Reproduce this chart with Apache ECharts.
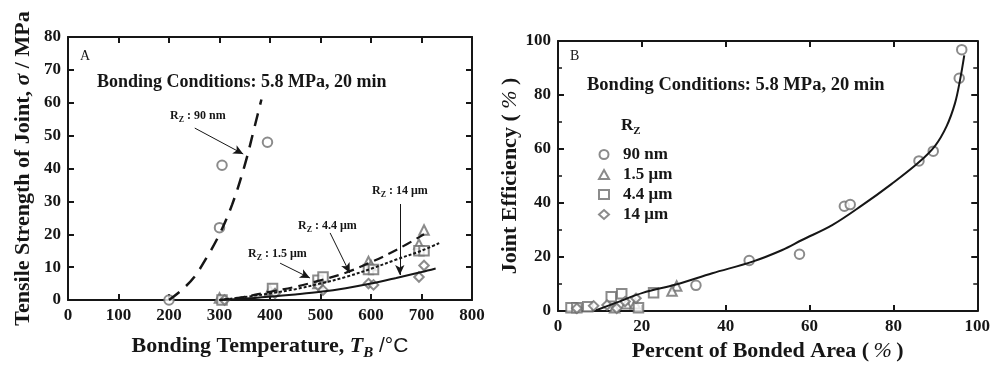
<!DOCTYPE html>
<html><head><meta charset="utf-8">
<script src="https://cdn.jsdelivr.net/npm/echarts@6/dist/echarts.min.js"></script>
<style>html,body{margin:0;padding:0;background:#fff}#c{width:993px;height:367px}</style>
</head><body><div id="c"></div>
<script>
// ---------- Panel A data (Bonding temperature °C, tensile strength MPa) ----------
const aCircles = [[200,0],[300,22],[305,41],[395,48]];
const aTriangles = [[300,0.6],[400,3],[495,5],[595,11.7],[600,10.5],[695,17],[705,21.3]];
const aSquares = [[305,0],[405,3.5],[495,6],[505,7],[595,9.3],[605,9.3],[695,15],[705,15]];
const aDiamonds = [[310,0],[410,2],[495,4.5],[505,3],[595,5],[605,4.6],[695,7],[705,10.5]];
const aCurve90 = [[200,0],[225,3],[250,7],[275,13],[300,20],[325,29],[350,41],[370,53],[383,61]];
const aCurve15 = [[300,0],[350,1],[400,2.5],[450,4],[500,6],[550,8.3],[600,11.5],[650,15.2],[705,20]];
const aCurve44 = [[300,0],[350,0.9],[400,2],[450,3.3],[500,5],[550,7],[600,9.5],[650,12.3],[700,15],[735,17.3]];
const aCurve14 = [[300,0],[350,0.4],[400,1],[450,1.7],[500,2.5],[550,3.6],[600,5],[650,6.7],[700,8.5],[728,9.6]];
const aArrows = [[[251,52.3],[347,44.4]],[[420,11.2],[479,6.7]],[[519,20.4],[558,8.2]],[[657,29.2],[657,7.6]]];

// ---------- Panel B data (Percent bonded area %, joint efficiency %) ----------
const bCircles = [[96.3,96.8],[95.7,86.2],[86.1,55.6],[89.5,59.2],[68.3,38.8],[69.7,39.4],[57.6,21.0],[45.6,18.7],[32.9,9.5],[4.4,1.2]];
const bTriangles = [[28.3,9.3],[27.2,7.4],[16.3,2.7],[18.4,2.7],[13.5,1.2]];
const bSquares = [[3.1,1.2],[4.5,1.2],[7.1,1.6],[12.7,5.3],[15.2,6.4],[22.8,6.8],[19.2,1.2]];
const bDiamonds = [[4.5,1],[8.5,1.9],[11.7,2.2],[16,3.5],[18.6,4.7],[14,1]];
const bCurve = [[9.1,0.3],[13.9,3.1],[20.2,6.7],[28.1,9.8],[36.8,14],[46.4,18.3],[53.5,22.6],[58.2,26.3],[65.4,31.8],[72.5,39.1],[79.6,47.1],[86,55],[89.9,61.1],[92.7,68.5],[94.7,77],[95.9,85.6],[96.9,94.7]];
const legendNames = ['90 nm','1.5 μm','4.4 μm','14 μm'];

const SERIF = "'Liberation Serif','Times New Roman',serif";
const INK = '#161616';
const MK = '#6e6e6e';

function axisCommon(min,max,interval,pos,showLabel,gridIndex,minor){
  return {
    type:'value', gridIndex, min, max, interval, position:pos,
    axisLine:{show:true,onZero:false,lineStyle:{color:INK,width:2}},
    axisTick:{show:true,inside:true,length:6,lineStyle:{color:INK,width:2}},
    minorTick:{show:!!minor,splitNumber:2,length:4,lineStyle:{color:INK,width:1.5}},
    splitLine:{show:false},
    axisLabel:{show:showLabel,color:INK,fontFamily:SERIF,fontWeight:'bold',fontSize:17,margin:7},
  };
}
const titleRich = {
  b:{fontFamily:SERIF,fontWeight:'bold',fontSize:22,color:INK},
  i:{fontFamily:SERIF,fontWeight:'bold',fontStyle:'italic',fontSize:22,color:INK},
  p:{fontFamily:SERIF,fontStyle:'italic',fontSize:22,color:INK},
  sub:{fontFamily:SERIF,fontWeight:'bold',fontStyle:'italic',fontSize:15,color:INK,verticalAlign:'top',padding:[14,0,0,0]},
  s:{fontFamily:"'Liberation Sans',Arial,sans-serif",fontSize:21,color:INK}
};

const xA = axisCommon(0,800,100,'bottom',true,0);
xA.name='{b|Bonding Temperature, }{i|T}{sub|B}{s| /°C}'; xA.nameLocation='middle'; xA.nameGap=32; xA.nameTextStyle={rich:titleRich};
const xAt = axisCommon(0,800,100,'top',false,0);
const yA = axisCommon(0,80,10,'left',true,0);
yA.name='{b|Tensile Strength of Joint, }{i|σ}{b| / MPa}'; yA.nameLocation='middle'; yA.nameGap=34; yA.nameTextStyle={rich:titleRich};
const yAr = axisCommon(0,80,10,'right',false,0);

const xB = axisCommon(0,100,20,'bottom',true,1);
xB.name='{b|Percent of Bonded Area (\u2009}{p|%}{b|\u2009)}'; xB.nameLocation='middle'; xB.nameGap=29; xB.nameTextStyle={rich:titleRich};
const xBt = axisCommon(0,100,20,'top',false,1);
const yB = axisCommon(0,100,20,'left',true,1,true);
yB.name='{b|Joint Efficiency ( }{p|%}{b| )}'; yB.nameLocation='middle'; yB.nameGap=37; yB.nameTextStyle={rich:titleRich};
const yBr = axisCommon(0,100,20,'right',false,1,true);

function scat(name,data,sym,xi,yi){
  return {type:'scatter',name,data,symbol:sym,symbolSize:9.5,xAxisIndex:xi,yAxisIndex:yi,
    itemStyle:{color:MK,borderColor:MK,borderWidth:1.2},z:3};
}
function curve(name,data,type,width,xi,yi){
  return {type:'line',name,data,showSymbol:false,smooth:0.35,xAxisIndex:xi,yAxisIndex:yi,
    lineStyle:{color:INK,width,type},z:4,silent:true};
}

const arrowSeries = {
  type:'line',name:'arrows',data:[],xAxisIndex:0,yAxisIndex:0,silent:true,
  markLine:{silent:true,symbol:['none','arrow'],symbolSize:[7,10],label:{show:false},
    lineStyle:{color:INK,width:1,type:'solid'},
    data:aArrows.map(a=>[{coord:a[0]},{coord:a[1]}])}
};

const annRich = {
  r:{fontFamily:SERIF,fontWeight:'bold',fontSize:12,fill:INK},
  z:{fontFamily:SERIF,fontWeight:'bold',fontSize:8,fill:INK,verticalAlign:'top',padding:[8,0,0,0]}
};
function ann(text,x,y){
  return {type:'text',left:x,top:y,style:{text,rich:annRich,fill:INK}};
}
function txt(text,x,y,size,weight){
  return {type:'text',left:x,top:y,style:{text,fill:INK,font:(weight||'bold')+' '+size+'px '+SERIF}};
}

const option = {
  animation:false,
  backgroundColor:'#fff',
  grid:[{left:68,top:37,width:404,height:263},{left:558,top:41,width:421,height:272}],
  xAxis:[xA,xAt,xB,xBt],
  yAxis:[yA,yAr,yB,yBr],
  legend:{
    data:legendNames, orient:'vertical', left:593, top:141, itemWidth:10, itemHeight:9, itemGap:3,
    textStyle:{fontFamily:SERIF,fontWeight:'bold',fontSize:17,color:INK,lineHeight:17,padding:[0,0,0,9]},
    selectedMode:false
  },
  series:[
    scat('A90',aCircles,'emptyCircle',0,0),
    scat('A15',aTriangles,'emptyTriangle',0,0),
    scat('A44',aSquares,'emptyRect',0,0),
    scat('A14',aDiamonds,'emptyDiamond',0,0),
    curve('c90',aCurve90,[13,9],2.5,0,0),
    curve('c15',aCurve15,[10,6],2.2,0,0),
    curve('c44',aCurve44,[3,2],2,0,0),
    curve('c14',aCurve14,'solid',2,0,0),
    arrowSeries,
    curve('cB',bCurve,'solid',2,2,2),
    scat(legendNames[0],bCircles,'emptyCircle',2,2),
    scat(legendNames[1],bTriangles,'emptyTriangle',2,2),
    scat(legendNames[2],bSquares,'emptyRect',2,2),
    scat(legendNames[3],bDiamonds,'emptyDiamond',2,2)
  ],
  graphic:[
    txt('A',80,49,14,'normal'),
    txt('Bonding Conditions: 5.8 MPa, 20 min',97,73,18),
    ann('{r|R}{z|Z}{r| : 90 nm}',170,110),
    ann('{r|R}{z|Z}{r| : 1.5 μm}',248,248),
    ann('{r|R}{z|Z}{r| : 4.4 μm}',298,220),
    ann('{r|R}{z|Z}{r| : 14 μm}',372,185),
    txt('B',570,49,14,'normal'),
    txt('Bonding Conditions: 5.8 MPa, 20 min',587,76,18.5),
    {type:'text',left:621,top:117,style:{text:'{r|R}{z|Z}',rich:{
      r:{fontFamily:SERIF,fontWeight:'bold',fontSize:17,fill:INK},
      z:{fontFamily:SERIF,fontWeight:'bold',fontSize:11,fill:INK,verticalAlign:'top',padding:[11,0,0,0]}}}}
  ]
};
const chart = echarts.init(document.getElementById('c'),null,{renderer:'canvas'});
chart.setOption(option);
</script></body></html>
